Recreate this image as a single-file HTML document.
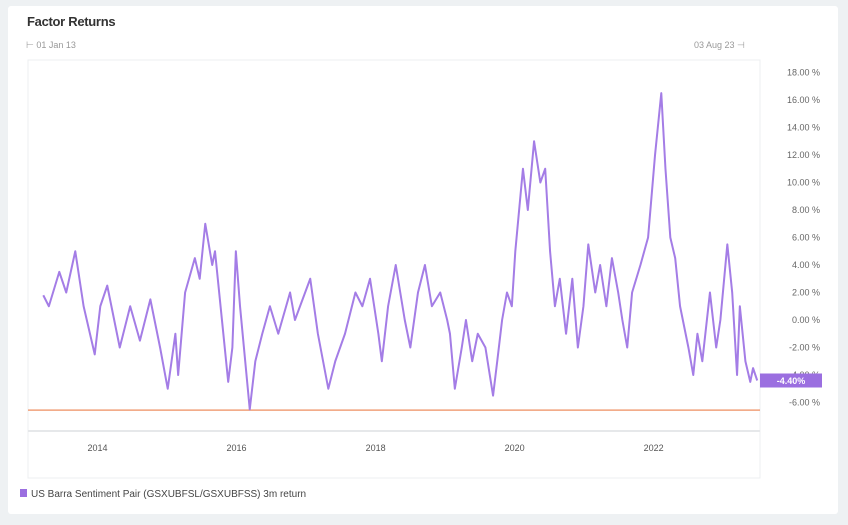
<!DOCTYPE html>
<html><head><meta charset="utf-8"><style>
body{margin:0;background:#eef1f3;font-family:"Liberation Sans",sans-serif;}
#card{position:absolute;left:8px;top:6px;width:830px;height:508px;background:#fff;border-radius:3px;}
.t{position:absolute;white-space:nowrap}
</style></head><body>
<div id="card"></div>
<div class="t" style="left:27px;top:14px;font-size:13px;color:#333;font-weight:bold;letter-spacing:-0.3px">Factor Returns</div>
<div class="t" style="left:26px;top:40px;font-size:9px;color:#999">⊢ 01 Jan 13</div>
<div class="t" style="left:694px;top:40px;font-size:9px;color:#999">03 Aug 23 ⊣</div>
<svg id="chart" width="848" height="525" style="position:absolute;left:0;top:0"></svg>
<div class="t" style="left:20px;top:489px;font-size:10px;color:#444"><span style="display:inline-block;width:7px;height:8px;background:#9b6fe0;margin-right:4px"></span>US Barra Sentiment Pair (GSXUBFSL/GSXUBFSS) 3m return</div>
<script>
const dates=[2013.22,2013.3,2013.45,2013.55,2013.68,2013.8,2013.96,2014.04,2014.14,2014.32,2014.47,2014.61,2014.76,2014.90,2015.01,2015.12,2015.16,2015.26,2015.40,2015.47,2015.55,2015.65,2015.69,2015.79,2015.88,2015.94,2015.99,2016.05,2016.19,2016.27,2016.37,2016.48,2016.60,2016.77,2016.84,2017.06,2017.17,2017.32,2017.42,2017.56,2017.71,2017.81,2017.92,2018.04,2018.09,2018.18,2018.29,2018.42,2018.50,2018.61,2018.71,2018.81,2018.93,2019.03,2019.07,2019.14,2019.24,2019.30,2019.39,2019.47,2019.58,2019.69,2019.75,2019.82,2019.89,2019.96,2020.01,2020.12,2020.19,2020.28,2020.37,2020.44,2020.51,2020.58,2020.65,2020.74,2020.83,2020.91,2020.99,2021.06,2021.16,2021.23,2021.32,2021.40,2021.49,2021.55,2021.62,2021.69,2021.81,2021.92,2022.02,2022.11,2022.17,2022.24,2022.31,2022.38,2022.50,2022.57,2022.63,2022.70,2022.81,2022.90,2022.96,2023.06,2023.13,2023.20,2023.24,2023.32,2023.39,2023.43,2023.49];
const values=[1.8,1.0,3.5,2.0,5.0,1.0,-2.5,1.0,2.5,-2.0,1.0,-1.5,1.5,-2.0,-5.0,-1.0,-4.0,2.0,4.5,3.0,7.0,4.0,5.0,0.0,-4.5,-2.0,5.0,1.0,-6.5,-3.0,-1.0,1.0,-1.0,2.0,0.0,3.0,-1.0,-5.0,-3.0,-1.0,2.0,1.0,3.0,-1.0,-3.0,1.0,4.0,0.0,-2.0,2.0,4.0,1.0,2.0,0.0,-1.0,-5.0,-2.0,0.0,-3.0,-1.0,-2.0,-5.5,-3.0,0.0,2.0,1.0,5.0,11.0,8.0,13.0,10.0,11.0,5.0,1.0,3.0,-1.0,3.0,-2.0,1.0,5.5,2.0,4.0,1.0,4.5,2.0,0.0,-2.0,2.0,4.0,6.0,12.0,16.5,11.0,6.0,4.5,1.0,-2.0,-4.0,-1.0,-3.0,2.0,-2.0,0.0,5.5,2.0,-4.0,1.0,-3.0,-4.5,-3.5,-4.4];
const yTicks=[18,16,14,12,10,8,6,4,2,0,-2,-4,-6];
const xTicks=[2014,2016,2018,2020,2022];
const refLevel=-6.55;
const lastLabel="-4.40%";
const X0=28,X1=760,D0=2013.0,D1=2023.53;
const x=d=>X0+(d-D0)/(D1-D0)*(X1-X0);
const y=v=>320-v*13.75;
const svg=document.getElementById('chart');const NS='http://www.w3.org/2000/svg';
function mk(tag,attrs){const e=document.createElementNS(NS,tag);for(const k in attrs)e.setAttribute(k,attrs[k]);svg.appendChild(e);return e;}
const frame=mk('rect',{x:X0,y:60,width:X1-X0,height:418,fill:'none',stroke:'#eceff1'});


const sep=mk('line',{x1:X0,x2:X1,y1:431,y2:431,stroke:'#e6e8ea','stroke-width':2});


yTicks.forEach(t=>{const e=mk('text',{x:820,y:y(t)+3,'text-anchor':'end','font-size':9,fill:'#666'});e.textContent=t.toFixed(2)+' %';

});
xTicks.forEach(t=>{const e=mk('text',{x:x(t),y:451,'text-anchor':'middle','font-size':9,fill:'#555'});e.textContent=t;

});
const ref=mk('line',{x1:X0,x2:X1,y1:y(refLevel),y2:y(refLevel),stroke:'#f0a07a','stroke-width':1.5});


const p=mk('polyline',{points:dates.map((d,i)=>x(d)+','+y(values[i])).join(' '),fill:'none',stroke:'#a47de6','stroke-width':2,'stroke-linejoin':'round'});


const lv=values[values.length-1];
const bx=mk('rect',{x:X1,y:y(lv)-7,width:62,height:14,fill:'#9b6fe0'});


const bt=mk('text',{x:X1+31,y:y(lv)+3.5,'text-anchor':'middle','font-size':9,'font-weight':'bold',fill:'#fff'});bt.textContent=lastLabel;


</script>
</body></html>
